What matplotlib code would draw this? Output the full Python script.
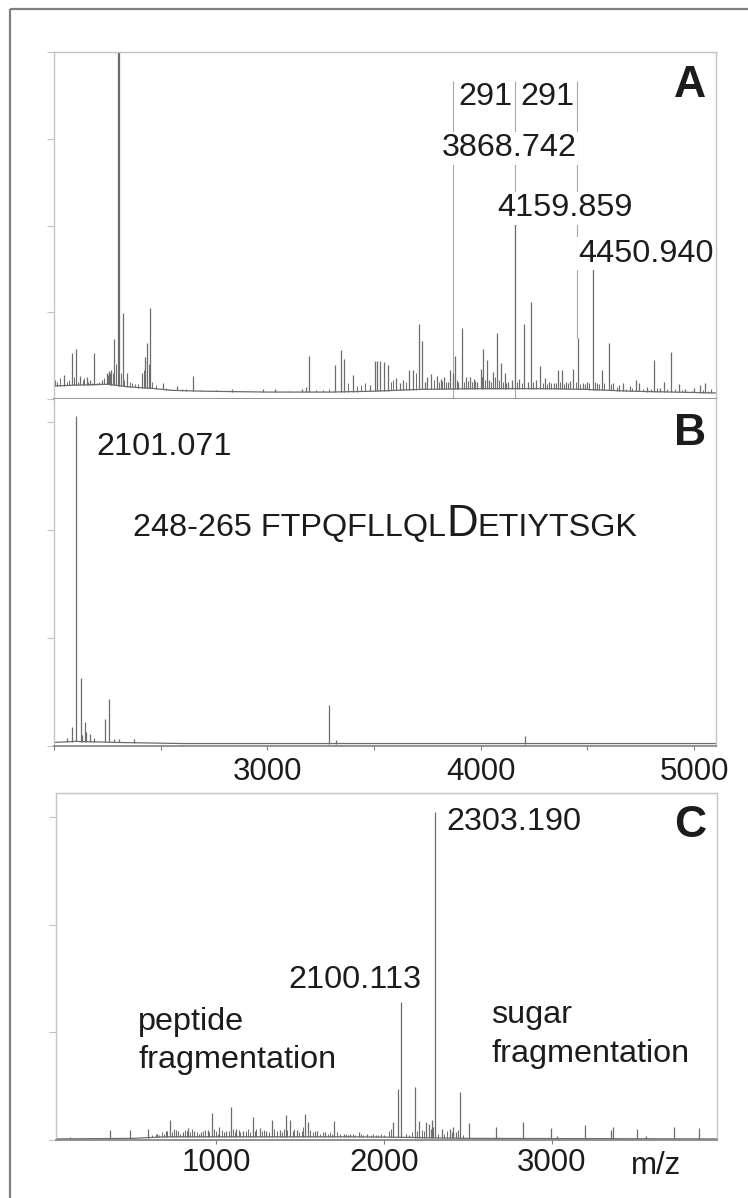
import numpy as np
import matplotlib
matplotlib.use("Agg")
import matplotlib.pyplot as plt
from matplotlib.patches import Rectangle
from matplotlib.transforms import Affine2D

W, H = 748, 1198
plt.rcParams['font.family'] = ['Liberation Sans', 'DejaVu Sans']

# ---------------- data ----------------
# panel A: MS spectrum, intensity in tick units
a_mz = [2005, 2048, 2083, 2101, 2122, 2153, 2169, 2187, 2223, 2247, 2259, 2269,
        2283, 2298, 2304, 2322, 2344, 2411, 2427, 2437, 2450, 2509, 2575, 2653,
        2833, 2980, 3036, 3161, 3181, 3197, 3319, 3344, 3359, 3403, 3481, 3503,
        3516, 3527, 3548, 3564, 3602, 3620, 3637, 3666, 3684, 3709, 3726, 3740,
        3750, 3767, 3794, 3812, 3828, 3845, 3856, 3869, 3880, 3895, 3911, 3931,
        3950, 3969, 3985, 4000, 4012, 4028, 4040, 4056, 4075, 4094, 4114, 4130,
        4145, 4161, 4181, 4205, 4220, 4234, 4260, 4278, 4302, 4320, 4345, 4364,
        4380, 4400, 4420, 4434, 4455, 4480, 4500, 4525, 4545, 4567, 4600, 4620,
        4650, 4669, 4700, 4727, 4742, 4780, 4814, 4840, 4859, 4892, 4931, 4960,
        5000, 5028, 5052, 5080]
a_int = [0.22, 0.28, 0.53, 0.58, 0.26, 0.25, 0.22, 0.53, 0.22, 0.30, 0.32, 0.33,
         0.69, 4.20, 4.20, 0.99, 0.30, 0.30, 0.48, 0.64, 1.05, 0.19, 0.15, 0.26,
         0.12, 0.11, 0.12, 0.12, 0.14, 0.50, 0.39, 0.56, 0.46, 0.28, 0.16, 0.44,
         0.44, 0.44, 0.43, 0.39, 0.24, 0.18, 0.22, 0.34, 0.34, 0.86, 0.67, 0.20,
         0.25, 0.29, 0.27, 0.23, 0.25, 0.20, 0.34, 0.30, 0.49, 0.20, 0.82, 0.25,
         0.25, 0.23, 0.20, 0.35, 0.58, 0.45, 0.22, 0.31, 0.76, 0.41, 0.30, 0.20,
         0.22, 2.06, 0.23, 0.87, 0.20, 1.12, 0.22, 0.38, 0.24, 0.20, 0.19, 0.33,
         0.33, 0.20, 0.21, 0.35, 0.70, 0.19, 0.20, 1.52, 0.19, 0.33, 0.64, 0.18,
         0.16, 0.18, 0.15, 0.22, 0.19, 0.14, 0.45, 0.13, 0.20, 0.54, 0.17, 0.12,
         0.13, 0.16, 0.18, 0.11]
# small noise peaks ("grass") in panel A
a_minor_mz = [2015, 2030, 2060, 2070, 2092, 2112, 2135, 2142, 2160, 2178, 2200,
              2210, 2235, 2253, 2263, 2276, 2290, 2312, 2330, 2355, 2365, 2380,
              2395, 2420, 2443, 2460, 2480, 2525, 2540, 2600, 2620, 2690, 2760,
              3100, 3230, 3260, 3290, 3380, 3420, 3440, 3460, 3580, 3590, 3650,
              3695, 3780, 3805, 3820, 3838, 3890, 3920, 3940, 3960, 3975, 4005,
              4020, 4048, 4065, 4085, 4104, 4120, 4170, 4192, 4245, 4290, 4310,
              4330, 4355, 4372, 4390, 4410, 4445, 4465, 4490, 4510, 4535, 4555,
              4580, 4610, 4640, 4680, 4710, 4760, 4800, 4825, 4875, 4910, 4945,
              4990, 5040, 5065]
a_minor_int = [0.20, 0.24, 0.20, 0.22, 0.25, 0.20, 0.22, 0.24, 0.20, 0.19, 0.18,
               0.20, 0.24, 0.28, 0.30, 0.30, 0.40, 0.30, 0.22, 0.20, 0.18, 0.17,
               0.17, 0.34, 0.40, 0.20, 0.16, 0.13, 0.12, 0.11, 0.12, 0.10, 0.10,
               0.09, 0.10, 0.10, 0.12, 0.18, 0.15, 0.16, 0.18, 0.20, 0.22, 0.20,
               0.30, 0.22, 0.20, 0.21, 0.20, 0.22, 0.20, 0.21, 0.20, 0.21, 0.25,
               0.22, 0.20, 0.25, 0.22, 0.20, 0.19, 0.20, 0.18, 0.20, 0.18, 0.17,
               0.18, 0.18, 0.20, 0.17, 0.18, 0.20, 0.17, 0.17, 0.18, 0.20, 0.17,
               0.18, 0.17, 0.14, 0.12, 0.13, 0.12, 0.12, 0.13, 0.11, 0.11, 0.10,
               0.09, 0.10, 0.09]
a_base_mz = [2000, 2100, 2250, 2350, 2470, 2550, 2700, 3000, 3300, 3500, 3700,
             4000, 4300, 4500, 4700, 4900, 5100]
a_base_lvl = [0.15, 0.16, 0.17, 0.14, 0.12, 0.10, 0.09, 0.08, 0.08, 0.09, 0.11,
              0.12, 0.12, 0.11, 0.09, 0.08, 0.07]
# marked peaks with 291 Da spacing
a_marks = [3868.742, 4159.859, 4450.940]
a_mark_from = [0.0, 0.0, 0.70]

# panel B: MS/MS of the peptide
b_mz = [2059, 2086, 2103, 2125, 2133, 2145, 2150, 2169, 2187, 2239, 2258,
        2281, 2306, 2375, 3291, 3320, 4207]
b_int = [0.07, 0.17, 3.05, 0.63, 0.10, 0.22, 0.13, 0.11, 0.07, 0.25, 0.43,
         0.06, 0.06, 0.06, 0.38, 0.05, 0.09]
b_base_mz = [2000, 2100, 2300, 2600, 5100]
b_base_lvl = [0.03, 0.04, 0.03, 0.02, 0.02]

# panel C: fragmentation spectrum
c_mz = [130, 368, 488, 597, 650, 700, 726, 763, 800, 835, 870, 910, 950, 976,
        1020, 1060, 1089, 1120, 1160, 1217, 1260, 1300, 1332, 1380, 1417, 1440,
        1480, 1530, 1550, 1600, 1650, 1705, 1760, 1800, 1850, 1900, 1950, 2000,
        2053, 2081, 2103, 2150, 2182, 2210, 2251, 2268, 2287, 2305, 2345, 2394,
        2414, 2430, 2450, 2508, 2669, 2831, 2995, 3030, 3199, 3350, 3362, 3507,
        3560, 3725, 3875]
c_int = [0.03, 0.09, 0.09, 0.10, 0.06, 0.08, 0.19, 0.09, 0.07, 0.11, 0.08, 0.07,
         0.09, 0.25, 0.12, 0.08, 0.31, 0.10, 0.08, 0.21, 0.11, 0.08, 0.19, 0.09,
         0.23, 0.19, 0.09, 0.24, 0.17, 0.08, 0.07, 0.18, 0.06, 0.06, 0.07, 0.06,
         0.05, 0.05, 0.17, 0.47, 1.28, 0.05, 0.49, 0.18, 0.17, 0.15, 0.19, 3.05,
         0.10, 0.10, 0.12, 0.07, 0.45, 0.16, 0.12, 0.17, 0.11, 0.04, 0.14, 0.09,
         0.12, 0.10, 0.04, 0.12, 0.11]
c_minor_mz = [620, 640, 660, 680, 690, 710, 740, 750, 775, 785, 815, 825, 845,
              855, 885, 895, 920, 935, 960, 990, 1000, 1010, 1035, 1045, 1075,
              1100, 1110, 1135, 1145, 1175, 1190, 1200, 1230, 1240, 1275, 1285,
              1315, 1345, 1360, 1395, 1405, 1425, 1455, 1465, 1495, 1510, 1520,
              1560, 1575, 1590, 1620, 1635, 1665, 1680, 1690, 1720, 1740, 1775,
              1785, 1815, 1830, 1865, 1875, 1920, 1935, 1965, 1985, 2030, 2040,
              2130, 2165, 2195, 2225, 2240, 2280, 2295, 2320, 2360, 2375, 2405,
              2440, 2470]
c_minor_int = [0.05, 0.06, 0.05, 0.07, 0.06, 0.08, 0.07, 0.10, 0.08, 0.06, 0.09,
               0.08, 0.07, 0.10, 0.07, 0.06, 0.08, 0.09, 0.07, 0.10, 0.08, 0.06,
               0.09, 0.07, 0.08, 0.10, 0.07, 0.09, 0.07, 0.08, 0.10, 0.07, 0.08,
               0.10, 0.08, 0.09, 0.07, 0.10, 0.08, 0.07, 0.10, 0.09, 0.08, 0.10,
               0.07, 0.08, 0.12, 0.09, 0.07, 0.08, 0.06, 0.07, 0.06, 0.07, 0.06,
               0.07, 0.06, 0.06, 0.05, 0.06, 0.05, 0.06, 0.05, 0.05, 0.06, 0.05,
               0.06, 0.08, 0.10, 0.06, 0.07, 0.08, 0.09, 0.08, 0.10, 0.12, 0.06,
               0.06, 0.08, 0.07, 0.09, 0.05]
c_base_mz = [46, 500, 700, 1800, 2100, 2500, 3984]
c_base_lvl = [0.01, 0.015, 0.03, 0.03, 0.025, 0.015, 0.01]

# ---------------- figure ----------------
fig = plt.figure(figsize=(W / 100, H / 100), dpi=100)
pix = Affine2D().scale(1, -1).translate(0, H)  # top-left pixel coords

# outer frame (runs off the right and bottom edge in the original)
fig.patches.append(Rectangle((10, 9), 800, H + 60, transform=pix,
                             fill=False, ec='#808080', lw=1.6))

SPEC = '#6c6c6c'
LIGHT = '#c4c4c4'
DARK = '#808080'
TXT = '#1c1c1c'


def panel(l, t, r, b):
    ax = fig.add_axes([l / W, 1 - b / H, (r - l) / W, (b - t) / H])
    for s in ['left', 'top', 'right']:
        ax.spines[s].set_color(LIGHT)
        ax.spines[s].set_linewidth(1.0)
    ax.spines['bottom'].set_color(DARK)
    ax.spines['bottom'].set_linewidth(1.2)
    ax.tick_params(axis='y', direction='out', length=5, color=LIGHT,
                   labelleft=False)
    ax.tick_params(axis='x', direction='out', length=3, color=DARK,
                   labelsize=22.5, labelcolor=TXT, pad=4)
    return ax


def spectrum(ax, mz, inten, bmz, blvl, top, lw=0.9):
    mz = np.asarray(mz, float)
    base = np.interp(mz, bmz, blvl)
    ax.vlines(mz, base, np.minimum(inten, top), color=SPEC, lw=lw)


def baseline(ax, bmz, blvl):
    ax.plot(bmz, blvl, color=SPEC, lw=0.9)


# ---- A ----
axA = panel(54, 52, 716, 399)
axA.set_xlim(2000, 5103)
axA.set_ylim(0, 4.0)
axA.set_yticks([0, 1, 2, 3, 4])
axA.set_xticks(np.arange(2000, 5001, 500))
axA.tick_params(axis='x', labelbottom=False)
axA.vlines(a_marks, a_mark_from, 3.66, color='#a8a8a8', lw=0.8)
spectrum(axA, a_minor_mz, a_minor_int, a_base_mz, a_base_lvl, 4.0, lw=0.7)
spectrum(axA, a_mz, a_int, a_base_mz, a_base_lvl, 4.0)
baseline(axA, a_base_mz, a_base_lvl)

# ---- B ----
axB = panel(54, 399, 716, 745.7)
axB.spines['top'].set_visible(False)
axB.set_xlim(2000, 5103)
axB.set_ylim(0, 3.21)
axB.set_yticks([0, 1, 2, 3])
axB.set_xticks(np.arange(2000, 5001, 500))
axB.set_xticklabels(['', '', '3000', '', '4000', '', '5000'])
axB.tick_params(axis='x', pad=5)
spectrum(axB, b_mz, b_int, b_base_mz, b_base_lvl, 3.21)
baseline(axB, b_base_mz, b_base_lvl)

# ---- C ----
axC = panel(56, 793.3, 717, 1140)
axC.set_xlim(46, 3984)
axC.set_ylim(0, 3.22)
axC.set_yticks([0, 1, 2, 3])
axC.set_xticks([1000, 2000, 3000])
axC.set_xticklabels(['1000', '2000', '3000'])
axC.tick_params(axis='x', pad=3)
spectrum(axC, c_minor_mz, c_minor_int, c_base_mz, c_base_lvl, 3.22, lw=0.7)
spectrum(axC, c_mz, c_int, c_base_mz, c_base_lvl, 3.22)
baseline(axC, c_base_mz, c_base_lvl)

# ---------------- text ----------------
FS = 23.3
box = dict(facecolor='white', edgecolor='none', pad=1.0)
NARROW = ['Liberation Sans Narrow', 'Liberation Sans', 'DejaVu Sans']


def label(x, y, s, ha='center', fs=FS, bold=False, bbox=None, family=None):
    kw = {} if family is None else {'family': family}
    fig.text(x, y, s, transform=pix, ha=ha, va='baseline', fontsize=fs,
             color=TXT, fontweight='bold' if bold else 'normal',
             bbox=bbox, zorder=5, **kw)


# A labels
label(485.5, 105, '291', bbox=box)
label(547.5, 105, '291', bbox=box)
label(509, 156.5, '3868.742', bbox=box)
label(565, 216.5, '4159.859', bbox=box)
label(646, 261.5, '4450.940', bbox=box)
label(690, 97, 'A', fs=32, bold=True, family=NARROW)

# B labels
label(164.5, 455, '2101.071')
label(690, 445, 'B', fs=32, bold=True, family=NARROW)
r = fig.canvas.get_renderer()
parts = [('248-265 FTPQFLLQL', FS), ('D', 31.5), ('ETIYTSGK', FS)]
widths = []
for s, fs in parts:
    t = fig.text(0, 0, s, fontsize=fs)
    widths.append(t.get_window_extent(r).width)
    t.remove()
x0 = 385.5 - sum(widths) / 2
for (s, fs), w in zip(parts, widths):
    label(x0, 535.7, s, ha='left', fs=fs)
    x0 += w

# C labels
label(514, 830, '2303.190')
label(354.5, 988.3, '2100.113')
label(138.4, 1030, 'peptide', ha='left')
label(138.4, 1068.3, 'fragmentation', ha='left')
label(491.5, 1023.3, 'sugar', ha='left')
label(491.5, 1061.7, 'fragmentation', ha='left')
label(690, 836.7, 'C', fs=32, bold=True, family=NARROW)
label(656, 1174, 'm/z', fs=22.5)

fig.savefig('out.png', dpi=100)
